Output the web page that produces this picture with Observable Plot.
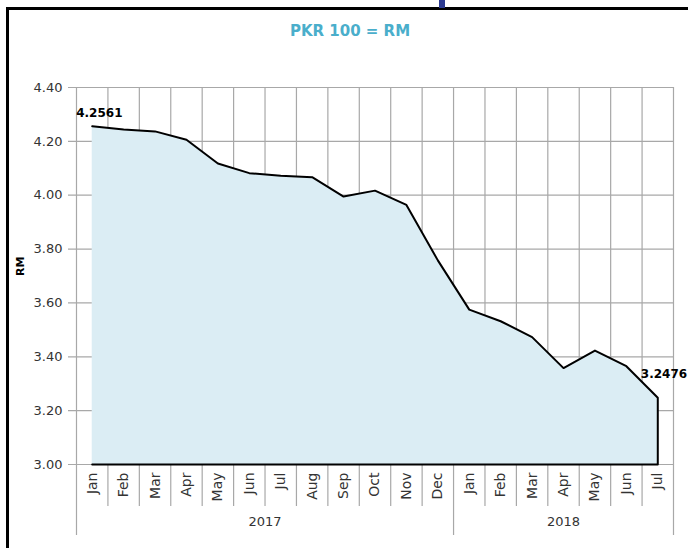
<!DOCTYPE html>
<html><head><meta charset="utf-8">
<script src="https://cdn.jsdelivr.net/npm/d3@7"></script>
<script src="https://cdn.jsdelivr.net/npm/@observablehq/plot@0.6"></script>
<style>
body{margin:0;background:#fff;}
#wrap{position:relative;width:688px;height:548px;overflow:hidden;background:#fff;}
#frame{position:absolute;left:6px;top:7px;width:720px;height:620px;border:3px solid #000;box-sizing:border-box;}
#mark{position:absolute;left:439px;top:0;width:6px;height:8px;background:#2b3990;}
#title{position:absolute;left:0;width:700px;top:21px;text-align:center;font:bold 15px "DejaVu Sans";color:#4aaecb;line-height:20px;}
#chart{position:absolute;left:0;top:0;}
</style></head>
<body>
<div id="wrap">
  <div id="frame"></div>
  <div id="mark"></div>
  <div id="chart"></div>
  <div id="title">PKR 100 = RM</div>
</div>
<script>
const months = ["Jan","Feb","Mar","Apr","May","Jun","Jul","Aug","Sep","Oct","Nov","Dec","Jan","Feb","Mar","Apr","May","Jun","Jul"];
const values = [4.2561, 4.244, 4.237, 4.206, 4.118, 4.082, 4.072, 4.067, 3.995, 4.017, 3.964, 3.758, 3.575, 3.532, 3.473, 3.358, 3.423, 3.365, 3.2476];
const years = ["2017", "2018"];
const yearMonths = [12, 7];
const yTicks = [3.00, 3.20, 3.40, 3.60, 3.80, 4.00, 4.20, 4.40];

const grid = "#a8a8a8";
const yMin = d3.min(yTicks), yMax = d3.max(yTicks);
const n = months.length;
const data = values.map((v, i) => ({i, month: months[i], v}));
const outline = [...data, {i: n - 1, v: yMin}, {i: 0, v: yMin}];

const yearBounds = [-0.5];
const yearInfo = [];
let acc = -0.5;
years.forEach((y, k) => {
  const start = acc; acc += yearMonths[k];
  yearBounds.push(acc);
  yearInfo.push({year: y, c: (start + acc) / 2});
});
const allBounds = d3.range(n + 1).map(k => k - 0.5);
const monthBounds = allBounds.filter(b => !yearBounds.includes(b));

const firstLabel = [{i: 0, v: values[0], t: values[0].toFixed(4)}];
const lastLabel = [{i: n - 1, v: values[n - 1], t: values[n - 1].toFixed(4)}];

const chart = Plot.plot({
  width: 688,
  height: 548,
  marginLeft: 76,
  marginRight: 15,
  marginTop: 87,
  marginBottom: 84,
  style: {fontFamily: "DejaVu Sans", fontSize: "13px", color: "#333", background: "transparent", overflow: "visible"},
  x: {type: "linear", domain: [-0.5, n - 0.5], axis: null},
  y: {domain: [yMin, yMax], axis: null},
  marks: [
    Plot.ruleY(yTicks, {y: d => d, stroke: grid, strokeWidth: 1.2, insetLeft: -8}),
    Plot.ruleX(monthBounds, {x: d => d, stroke: grid, strokeWidth: 1.2, insetBottom: -42}),
    Plot.ruleX(yearBounds, {x: d => d, stroke: grid, strokeWidth: 1.2, insetBottom: -71}),
    Plot.areaY(data, {x: "i", y1: () => yMin, y2: "v", fill: "#dbedf4"}),
    Plot.line(outline, {x: "i", y: "v", stroke: "#000", strokeWidth: 2}),
    Plot.text(yTicks, {y: d => d, text: d => d.toFixed(2), frameAnchor: "left", textAnchor: "end", dx: -14, fill: "#333", fontSize: 13}),
    Plot.text(data, {x: "i", text: "month", frameAnchor: "bottom", rotate: -90, textAnchor: "end", lineAnchor: "middle", dy: 8, fill: "#333", fontSize: 14}),
    Plot.text(yearInfo, {x: "c", text: "year", frameAnchor: "bottom", dy: 61, fill: "#333", fontSize: 13}),
    Plot.text(["RM"], {text: d => d, frameAnchor: "left", rotate: -90, dx: -56, fontWeight: "bold", fontSize: 11, fill: "#000"}),
    Plot.text(firstLabel, {x: "i", y: "v", text: "t", textAnchor: "start", dx: -16, dy: -13, fontWeight: "bold", fontSize: 12, fill: "#000"}),
    Plot.text(lastLabel, {x: "i", y: "v", text: "t", textAnchor: "start", dx: -17, dy: -24, fontWeight: "bold", fontSize: 12, fill: "#000"})
  ]
});
document.getElementById("chart").appendChild(chart);
</script>
</body></html>
